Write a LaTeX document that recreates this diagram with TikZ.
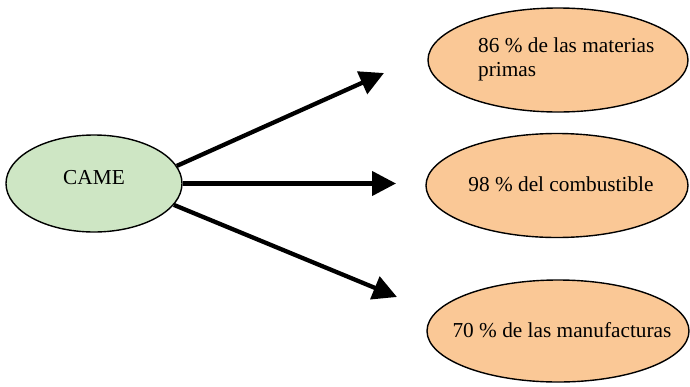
\documentclass[tikz,border=0pt]{standalone}
\usepackage{fontspec}
\setmainfont{Liberation Serif}
\usetikzlibrary{shapes.geometric,arrows.meta}
\definecolor{camegreen}{RGB}{206,230,196}
\definecolor{pctorange}{RGB}{250,200,150}
\begin{document}
\begin{tikzpicture}[x=1pt,y=-1pt,
  blob/.style={ellipse,draw=black,line width=1.4pt,inner sep=0pt},
  lbl/.style={font=\fontsize{21.3}{24}\selectfont,inner sep=0pt,align=left},
  conn/.style={line width=4.3pt,-{Triangle[length=24pt,width=24pt]}}]
\useasboundingbox (0,0) rectangle (690,386);
\node[blob,fill=camegreen,minimum width=176pt,minimum height=97pt] (came) at (94,183.5) {};
\node[lbl] (cametxt) at (94,178) {CAME};
\node[blob,fill=pctorange,minimum width=260pt,minimum height=104pt] (e1) at (558,60) {};
\node[lbl,anchor=west] (t1) at (478,59) {86 \% de las materias\\primas};
\node[blob,fill=pctorange,minimum width=262pt,minimum height=104pt] (e2) at (557,185.5) {};
\node[lbl] (t2) at (561,184.5) {98 \% del combustible};
\node[blob,fill=pctorange,minimum width=262pt,minimum height=102pt] (e3) at (558,331) {};
\node[lbl] (t3) at (562,330) {70 \% de las manufacturas};
\coordinate (h1) at (384,73);
\coordinate (h2) at (396,183.5);
\coordinate (h3) at (397,297);
\draw[conn] (came.12.5) -- (h1);
\draw[conn] (came.east) -- (h2);
\draw[conn] (came.-15.6) -- (h3);
\end{tikzpicture}
\end{document}
